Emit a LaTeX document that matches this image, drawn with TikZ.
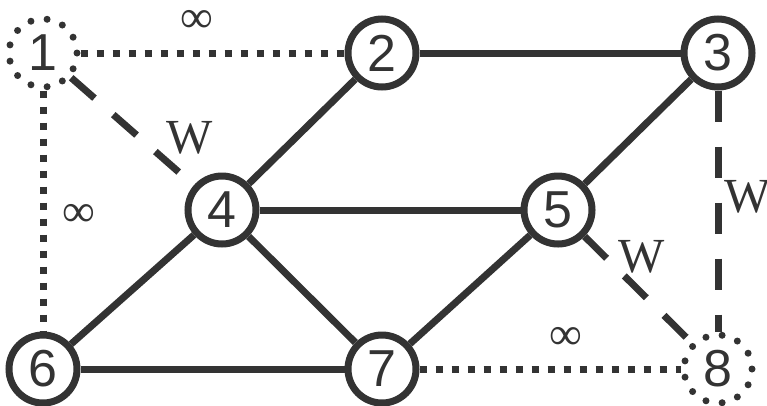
\documentclass[tikz,border=0pt]{standalone}
\usepackage{fontspec}
\setmainfont{Liberation Sans}
\newfontfamily\serifw{Liberation Serif}
\definecolor{ink}{HTML}{333333}
\begin{document}
\begin{tikzpicture}[x=1pt,y=-1pt,
  vtx/.style={circle,draw=ink,line width=7pt,minimum size=68pt,inner sep=0pt,text=ink,font=\fontsize{52}{52}\selectfont},
  vtxdot/.style={vtx,dash pattern=on 0pt off 16.43pt,line cap=round},
  solidedge/.style={draw=ink,line width=7pt},
  dotedge/.style={draw=ink,line width=7pt,dash pattern=on 7pt off 9pt},
  dashedge/.style={draw=ink,line width=7pt,dash pattern=on 31pt off 25pt},
  lbl/.style={text=ink,font=\serifw\fontsize{46}{46}\selectfont,inner sep=0pt},
  wlbl/.style={lbl,font=\serifw\fontsize{49}{49}\selectfont}]
\useasboundingbox (0,0) rectangle (767,405);
\node[vtxdot] (n1) at (43,53) {1};
\node[vtx] (n2) at (382,53) {2};
\node[vtx] (n3) at (718,53) {3};
\node[vtx] (n4) at (222,210) {4};
\node[vtx] (n5) at (558,210) {5};
\node[vtx] (n6) at (43,369) {6};
\node[vtx] (n7) at (382,369) {7};
\node[vtxdot] (n8) at (718,369) {8};
\path[solidedge] (n2) -- (n3);
\path[solidedge] (n2) -- (n4);
\path[solidedge] (n3) -- (n5);
\path[solidedge] (n4) -- (n5);
\path[solidedge] (n4) -- (n6);
\path[solidedge] (n4) -- (n7);
\path[solidedge] (n5) -- (n7);
\path[solidedge] (n6) -- (n7);
\path[dotedge] (n1) -- (n2);
\path[dotedge] (n1) -- (n6);
\path[dotedge] (n7) -- (n8);
\path[dashedge] (n1) -- (n4);
\path[dashedge] (n3) -- (n8);
\path[dashedge] (n5) -- (n8);
\node[lbl] (l12) at (197,21) {∞};
\node[lbl] (l16) at (79,215) {∞};
\node[lbl] (l78) at (566,338) {∞};
\node[wlbl] (l14) at (190,138) {W};
\node[wlbl] (l38) at (748,197) {W};
\node[wlbl] (l58) at (642,257) {W};
\end{tikzpicture}
\end{document}
